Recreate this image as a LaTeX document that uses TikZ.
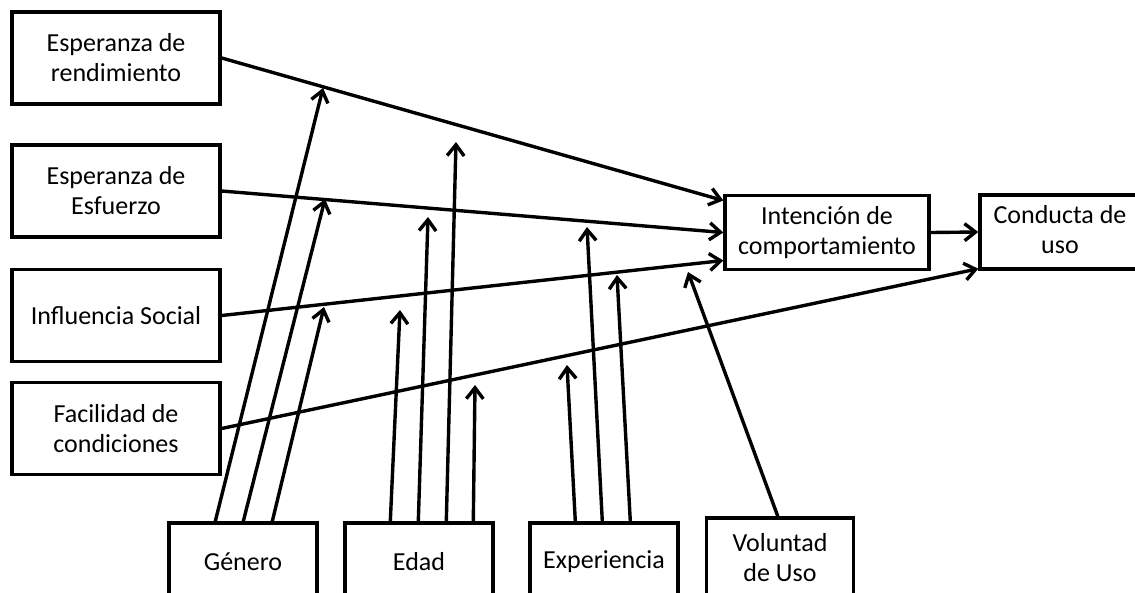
\documentclass[tikz,border=0pt]{standalone}
\usepackage{fontspec}
\setmainfont{Carlito}
\usetikzlibrary{positioning,arrows.meta,calc,shapes}
\tikzset{
    construct/.style = {
        draw,
        shape=rectangle,
        minimum height=92pt,
        minimum width=208pt,
        line width=3.4pt,
        align=center,
        font=\fontsize{26}{30}\selectfont
    },
    moderator/.style = {
        construct,
        minimum height=77pt,
        minimum width=148pt
    },
    outcome/.style = {
        construct,
        minimum height=74pt
    },
    link/.style = {
        draw,
        ->,
        line width=3.4pt
    },
    >={Straight Barb[length=11pt,width=17pt]},
}

\begin{document}
\begin{tikzpicture}[x=1pt,y=-1pt]
            \useasboundingbox (0,0) rectangle (1135,592);
            \clip (0,0) rectangle (1135,592);

            % predictores
            \node[construct] (er) at (116,58) {Esperanza de\\rendimiento};
            \node[construct] (ee) at (116,191) {Esperanza de\\Esfuerzo};
            \node[construct] (is) at (116,315.5) {Influencia Social};
            \node[construct] (fc) at (116,428.5) {Facilidad de\\condiciones};

            \node[outcome, minimum width=204pt] (int) at (827,232.5) {Intención de\\comportamiento};
            % la caja sale del margen derecho
            \node[outcome, minimum width=220pt, inner xsep=0pt, align=none] (cond) at (1090,232)
                {\begin{tabular}{@{}c@{}}Conducta de\\uso\end{tabular}\rule{60pt}{0pt}};

            % moderadores
            \node[moderator] (gen) at (243,561.5) {Género};
            \node[moderator] (edad) at (419,561.5) {Edad};
            \node[moderator] (exp) at (604,561.5) {Experiencia};
            \node[moderator, minimum height=80pt, minimum width=147pt] (vol) at (780,558) {Voluntad\\de Uso};

            \path[link] (er.east) -- ([yshift=32pt]int.west);
            \path[link] (ee.east) -- (int.west);
            \path[link] (is.east) -- ([yshift=-28pt]int.west);
            \path[link] (fc.east) -- ([yshift=2pt]cond.south west);
            \path[link] (int.east) -- (cond.west);

            % puntas de los moderadores
            \coordinate (gen1) at (323,88);
            \coordinate (gen2) at (325,199);
            \coordinate (gen3) at (324,307);
            \coordinate (edad1) at (400,310);
            \coordinate (edad2) at (428,217);
            \coordinate (edad3) at (456,142);
            \coordinate (edad4) at (475,385);
            \coordinate (exp1) at (567,365);
            \coordinate (exp2) at (587,227);
            \coordinate (exp3) at (617,275);
            \coordinate (vol1) at (688,272);

            \path[link] ([xshift=48pt]gen.north west) -- (gen1);
            \path[link] ([xshift=76pt]gen.north west) -- (gen2);
            \path[link] ([xshift=105pt]gen.north west) -- (gen3);

            \path[link] ([xshift=47pt]edad.north west) -- (edad1);
            \path[link] ([xshift=75pt]edad.north west) -- (edad2);
            \path[link] ([xshift=103pt]edad.north west) -- (edad3);
            \path[link] ([xshift=130pt]edad.north west) -- (edad4);

            \path[link] ([xshift=47pt]exp.north west) -- (exp1);
            \path[link] ([xshift=74pt]exp.north west) -- (exp2);
            \path[link] ([xshift=102pt]exp.north west) -- (exp3);

            \path[link] ([xshift=73pt]vol.north west) -- (vol1);
        \end{tikzpicture}
\end{document}
